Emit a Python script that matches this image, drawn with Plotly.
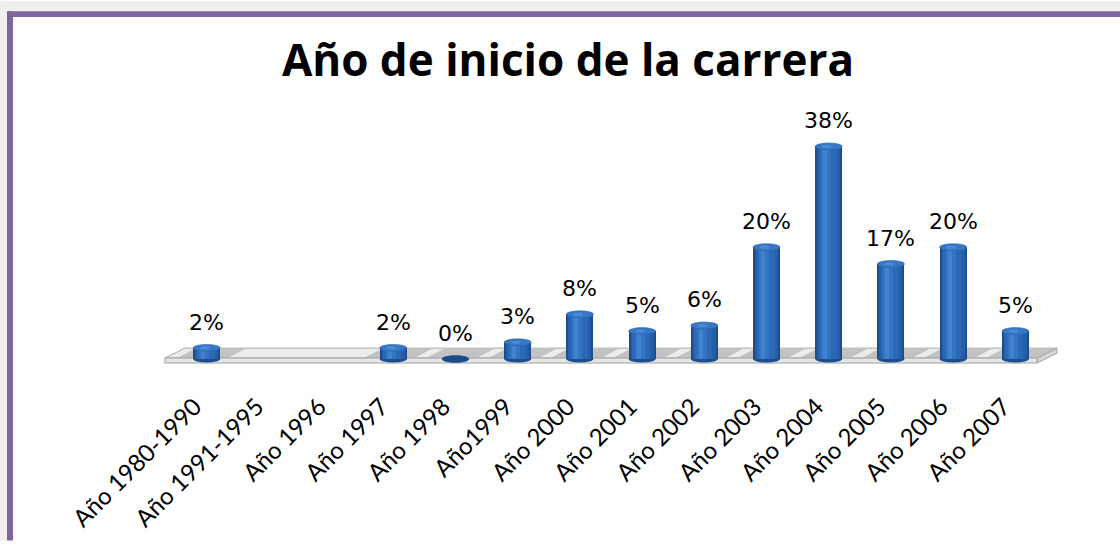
import plotly.graph_objects as go

# Categories, percentages and title
categorias = [
    "Año 1980-1990", "Año 1991-1995", "Año 1996", "Año 1997", "Año 1998",
    "Año1999", "Año 2000", "Año 2001", "Año 2002", "Año 2003",
    "Año 2004", "Año 2005", "Año 2006", "Año 2007",
]
porcentajes = [2, None, None, 2, 0, 3, 8, 5, 6, 20, 38, 17, 20, 5]
titulo = "Año de inicio de la carrera"

# Figure geometry
FIG_W, FIG_H = 1120, 544
M_L, M_R, M_T, M_B = 160, 58, 140, 175
PLOT_W = FIG_W - M_L - M_R
PLOT_H = FIG_H - M_T - M_B
X_RANGE = [-0.75, len(categorias) - 1 + 0.75]
Y_RANGE = [-1.42, 39.15]
PPU_X = PLOT_W / (X_RANGE[1] - X_RANGE[0])
PPU_Y = PLOT_H / (Y_RANGE[1] - Y_RANGE[0])


def dx(px):
    return px / PPU_X


def dy(px):
    return px / PPU_Y


def paper_x(px):
    return (px - M_L) / PLOT_W


def paper_y(py):
    return (FIG_H - M_B - py) / PLOT_H


BAR_W = 27      # cylinder diameter in px
CAP_RY = 3.5    # half-height of the elliptical ends in px

fig = go.Figure()

# Cylinder body: stacked strips from dark rim to bright highlight
capas = [
    (27, "#1c4d8c", 0),
    (23, "#255ea6", 0),
    (18, "#2b69b6", -1),
    (10, "#3475c3", -2.5),
    (4, "#4283cf", -3.5),
]
for ancho, color, desplaz in capas:
    fig.add_trace(go.Bar(
        x=categorias, y=porcentajes,
        width=dx(ancho), offset=-dx(ancho) / 2 + dx(desplaz),
        marker=dict(color=color, line=dict(width=0)),
        hoverinfo="skip", showlegend=False,
    ))

shapes = []

# Outer frame: grey margin and purple border (top and left)
shapes += [
    dict(type="rect", xref="paper", yref="paper", layer="above",
         x0=paper_x(0), x1=paper_x(FIG_W), y0=paper_y(0), y1=paper_y(10),
         fillcolor="#efefef", line=dict(width=0)),
    dict(type="rect", xref="paper", yref="paper", layer="above",
         x0=paper_x(0), x1=paper_x(7), y0=paper_y(0), y1=paper_y(FIG_H),
         fillcolor="#efefef", line=dict(width=0)),
    dict(type="rect", xref="paper", yref="paper", layer="above",
         x0=paper_x(7), x1=paper_x(FIG_W), y0=paper_y(10), y1=paper_y(16),
         fillcolor="#8064a2", line=dict(width=0)),
    dict(type="rect", xref="paper", yref="paper", layer="above",
         x0=paper_x(7), x1=paper_x(13), y0=paper_y(10), y1=paper_y(FIG_H),
         fillcolor="#8064a2", line=dict(width=0)),
]

# Perspective floor under the cylinders
n = len(categorias)
fx_front_l, fx_back_l = -0.67, -0.35
fx_front_r, fx_back_r = n - 1 + 0.35, n - 1 + 0.67
fy_back, fy_front, fy_bottom = 1.95, 0.18, -0.71
shapes.append(dict(
    type="path", xref="x", yref="y", layer="below",
    path=(f"M {fx_front_l},{fy_front} L {fx_back_l},{fy_back} "
          f"L {fx_back_r},{fy_back} L {fx_front_r},{fy_front} Z"),
    fillcolor="#ececec", line=dict(color="#a8a8a8", width=1),
))
# darker reflection patches around each cylinder
for i, v in enumerate(porcentajes):
    if v is None:
        continue
    a, b = i - 0.47, i + 0.34
    shapes.append(dict(
        type="path", xref="x", yref="y", layer="below",
        path=(f"M {a},{fy_front} L {a + 0.30},{fy_back} "
              f"L {b + 0.30},{fy_back} L {b},{fy_front} Z"),
        fillcolor="#c2c2c2", line=dict(width=0),
    ))
# front face of the floor slab
shapes.append(dict(
    type="path", xref="x", yref="y", layer="below",
    path=(f"M {fx_front_l},{fy_front} L {fx_front_r},{fy_front} "
          f"L {fx_front_r},{fy_bottom} L {fx_front_l},{fy_bottom} Z"),
    fillcolor="#e6e6e6", line=dict(color="#a0a0a0", width=1),
))
shapes.append(dict(
    type="path", xref="x", yref="y", layer="below",
    path=(f"M {fx_front_r},{fy_front} L {fx_back_r},{fy_back} "
          f"L {fx_back_r},{fy_back - (fy_front - fy_bottom)} L {fx_front_r},{fy_bottom} Z"),
    fillcolor="#d4d4d4", line=dict(color="#a0a0a0", width=1),
))

# Elliptical bottoms (under the bars) and tops (over the bars)
for i, v in enumerate(porcentajes):
    if v is None:
        continue
    shapes.append(dict(
        type="circle", xref="x", yref="y", layer="below",
        x0=i - dx(BAR_W / 2), x1=i + dx(BAR_W / 2),
        y0=-dy(CAP_RY), y1=dy(CAP_RY),
        fillcolor="#1c4d8c", line=dict(width=0),
    ))
for i, v in enumerate(porcentajes):
    if v is None:
        continue
    tope = "#1d4a85" if v == 0 else "#3777c4"
    shapes.append(dict(
        type="circle", xref="x", yref="y", layer="above",
        x0=i - dx(BAR_W / 2), x1=i + dx(BAR_W / 2),
        y0=v - dy(CAP_RY), y1=v + dy(CAP_RY),
        fillcolor=tope, line=dict(color="#2a64ad", width=0.6),
    ))
    if v > 0:
        shapes.append(dict(
            type="circle", xref="x", yref="y", layer="above",
            x0=i - dx(7), x1=i + dx(3),
            y0=v - dy(1.6), y1=v + dy(1.6),
            fillcolor="#4a8bd5", line=dict(width=0),
        ))

# Percentage labels above the cylinders
anotaciones = []
for cat, v in zip(categorias, porcentajes):
    if v is None:
        continue
    anotaciones.append(dict(
        x=cat, y=v, xref="x", yref="y", text=f"{v}%",
        showarrow=False, yanchor="middle", yshift=25.5,
        font=dict(family="DejaVu Sans", size=22, color="#000000"),
    ))

fig.update_layout(
    width=FIG_W, height=FIG_H,
    margin=dict(l=M_L, r=M_R, t=M_T, b=M_B, pad=0),
    paper_bgcolor="#ffffff", plot_bgcolor="rgba(0,0,0,0)",
    barmode="overlay", bargap=0,
    title=dict(
        text=titulo, x=568 / FIG_W, xref="container", xanchor="center",
        y=1 - 61 / FIG_H, yref="container", yanchor="middle",
        font=dict(family="Open Sans", size=44, weight="bold", color="#000000"),
    ),
    xaxis=dict(
        type="category", categoryorder="array", categoryarray=categorias,
        range=X_RANGE, showgrid=False, zeroline=False, showline=False,
        ticks="", tickangle=-45, ticklabelstandoff=20, ticklabelshift=-12,
        tickfont=dict(family="Lato", size=24, color="#000000"),
        fixedrange=True,
    ),
    yaxis=dict(range=Y_RANGE, visible=False, fixedrange=True),
    shapes=shapes, annotations=anotaciones,
    showlegend=False,
)

fig.write_html("out.html")
